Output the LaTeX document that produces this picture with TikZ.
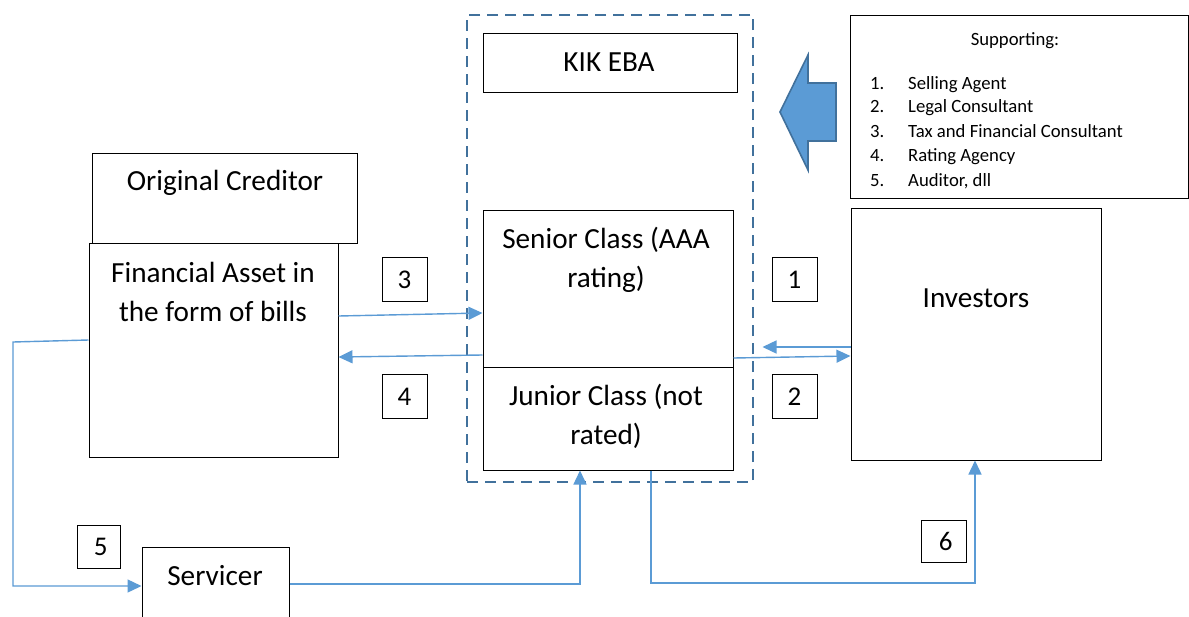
\documentclass[tikz,border=0pt]{standalone}
\usepackage{fontspec}
\setmainfont{Carlito}
\usetikzlibrary{arrows.meta}
\definecolor{flowblue}{HTML}{5B9BD5}
\definecolor{edgeblue}{HTML}{41719C}
\tikzset{
  box/.style={draw=black, line width=1pt, inner sep=0pt, fill=white},
  numbox/.style={box, minimum width=45, minimum height=44, font=\fontsize{27}{30}\selectfont},
  big/.style={font=\fontsize{29.2}{39}\selectfont, align=center, inner sep=0pt},
  small/.style={font=\fontsize{18.7}{22}\selectfont, inner sep=0pt},
  flow/.style={draw=flowblue, line width=1.4pt, -{Triangle[length=14pt,width=13pt]}},
}
\begin{document}
\begin{tikzpicture}[x=1pt,y=-1pt]
\useasboundingbox (0,0) rectangle (1189,616);
\clip (0,0) rectangle (1189,616);
\fill[white] (0,0) rectangle (1189,616);

% special purpose vehicle (dashed frame)
\node[draw=edgeblue, line width=2.6pt, dash pattern=on 11pt off 7pt, inner sep=0pt,
      minimum width=286, minimum height=467] (spv) at (610,248.5) {};
\node[box, minimum width=254, minimum height=59] (kik) at (610,62.5) {};
\node[big] at (609,62) {KIK EBA};

\node[box, minimum width=250, minimum height=157] (senior) at (608,288.5) {};
\node[big] at (606,259.5) {Senior Class (AAA\\rating)};
\node[box, minimum width=250, minimum height=103] (junior) at (608,418.5) {};
\node[big] at (606,416) {Junior Class (not\\rated)};

% supporting parties
\node[box, minimum width=338, minimum height=183] (support) at (1019,106.5) {};
\node[small] at (1015,41) {Supporting:};
\foreach \n/\t/\y in {1/Selling Agent/84, 2/Legal Consultant/107, 3/Tax and Financial Consultant/132, 4/Rating Agency/156, 5/{Auditor, dll}/181}{
  \node[small, anchor=mid west] at (870,\y+3) {\n.};
  \node[small, anchor=mid west] at (908,\y+3) {\t};
}
\filldraw[fill=flowblue, draw=edgeblue, line width=1.6pt]
  (780,112) -- (808,55) -- (808,83) -- (836,83) -- (836,141) -- (808,141) -- (808,170) -- cycle;

% originator side
\node[box, minimum width=265, minimum height=90] (orig) at (224.5,198) {};
\node[big] at (225,183) {Original Creditor};
\node[box, minimum width=249, minimum height=214] (fin) at (213.5,350) {};
\node[big] at (213,291.5) {Financial Asset in\\the form of bills};

\node[box, minimum width=250, minimum height=252] (inv) at (976,334) {};
\node[big] at (976,298) {Investors};

\node[box, minimum width=147, minimum height=90] (serv) at (215.5,592) {};
\node[big] at (215,576) {Servicer};

% step numbers
\node[numbox] (n3) at (404.5,279.5) {3};
\node[numbox] (n4) at (404.5,396.5) {4};
\node[numbox] (n1) at (794.5,279.5) {1};
\node[numbox] (n2) at (794.5,396.5) {2};
\node[numbox, minimum width=43, minimum height=43] (n5) at (98.5,546.5) {\,5};
\node[numbox, minimum height=42] (n6) at (943.5,541) {\,6};

% flows
\draw[flow] (fin.east |- 0,316) -- (senior.west |- 0,313);
\draw[flow] (senior.west |- 0,355) -- (fin.east |- 0,357);
\coordinate (invtip) at ([xshift=29pt]senior.east |- 0,347);
\draw[flow] (inv.west |- 0,347) -- (invtip);
\draw[flow] (senior.east |- 0,358) -- (inv.west |- 0,356);
\draw[flow] (fin.west |- 0,340) -- (13,342) -- (13,586) -- (serv.west |- 0,586);
\draw[flow] (serv.east |- 0,584) -- (580,584) -- (junior.south -| 580,0);
\draw[flow] (junior.south -| 651,0) -- (651,583) -- (975,583) -- (inv.south -| 975,0);
\end{tikzpicture}
\end{document}
